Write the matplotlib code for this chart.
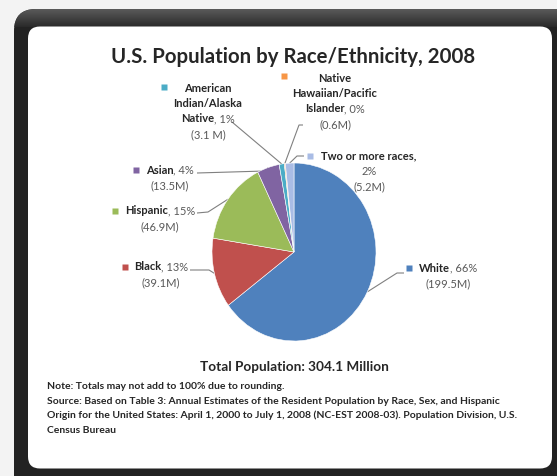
import numpy as np
import matplotlib
matplotlib.use('Agg')
import matplotlib.pyplot as plt
from matplotlib.patches import FancyBboxPatch

W, H = 557, 476

# data
groups = ['White', 'Black', 'Hispanic', 'Asian', 'American Indian/Alaska Native',
          'Native Hawaiian/Pacific Islander', 'Two or more races']
millions = [199.5, 39.1, 46.9, 13.5, 3.1, 0.6, 5.2]
shares = [66, 13, 15, 4, 1, 0, 2]
value_text = ['(199.5M)', '(39.1M)', '(46.9M)', '(13.5M)', '(3.1 M)', '(0.6M)', '(5.2M)']
colors = ['#4F81BD', '#C0504D', '#9BBB59', '#8064A2', '#4BACC6', '#F79646', '#A9BCE5']
name_lines = [['White'], ['Black'], ['Hispanic'], ['Asian'],
              ['American', 'Indian/Alaska', 'Native'],
              ['Native', 'Hawaiian/Pacific', 'Islander'],
              ['Two or more races,']]
pct_on_own_line = [False, False, False, False, False, False, True]

title = 'U.S. Population by Race/Ethnicity, 2008'
total_text = 'Total Population: 304.1 Million'
notes = ['Note: Totals may not add to 100% due to rounding.',
         'Source: Based on Table 3: Annual Estimates of the Resident Population by Race, Sex, and Hispanic',
         'Origin for the United States: April 1, 2000 to July 1, 2008 (NC-EST 2008-03). Population Division, U.S.',
         'Census Bureau']

# layout in image pixels (x right, y down)
pie_cx, pie_cy, pie_rx, pie_ry = 294, 252, 82, 89
label_cx = [448, 161, 160, 170, 208, 335, 369]
label_y0 = [268, 267, 211, 170, 88, 78, 156]
line_gap = 15.5
marker_xy = [(409, 268), (124.5, 267), (115, 211), (135.5, 170), (163.5, 86.5), (283.5, 75.5), (310, 156)]
leader_start = [[(404, 273), (397, 273)], [(190, 270), (209, 270)], [(197, 213), (208, 212)],
                [(197, 173), (265, 171)], [(232, 122)], [(303, 125), (299, 125)],
                [(304, 156), (297, 156)]]

FONT = 'Lato'
dark = '#262626'
grey = '#595959'

fig = plt.figure(figsize=(W / 100, H / 100), dpi=100)
bg = fig.add_axes([0, 0, 1, 1])
bg.set_xlim(0, W)
bg.set_ylim(H, 0)
bg.axis('off')
fig.patch.set_facecolor('#f3f3f3')

# dark rounded frame with lighter top band
outer = FancyBboxPatch((14, 9), 570, 490, boxstyle='round,pad=0,rounding_size=22',
                       facecolor='#222222', edgecolor='none', zorder=1)
bg.add_patch(outer)
grad = np.linspace(0, 1, 30).reshape(-1, 1)
im = bg.imshow(grad, extent=(14, W, 27, 9), cmap=plt.cm.colors.LinearSegmentedColormap.from_list(
    'g', ['#5a5a5a', '#2a2a2a']), aspect='auto', zorder=1.5)
im.set_clip_path(outer)
inner = FancyBboxPatch((28, 26.5), 524, 442, boxstyle='round,pad=0,rounding_size=12',
                       facecolor='white', edgecolor='none', zorder=2)
bg.add_patch(inner)

# pie
ax = fig.add_axes([(pie_cx - pie_rx) / W, (H - pie_cy - pie_ry) / H, 2 * pie_rx / W, 2 * pie_ry / H])
wedges, _ = ax.pie(millions, colors=colors, startangle=90, counterclock=False, radius=1,
                   wedgeprops=dict(edgecolor='white', linewidth=0.4))
ax.set_aspect('auto')
ax.set_xlim(-1, 1)
ax.set_ylim(-1, 1)
ax.axis('off')

fig.canvas.draw()
renderer = fig.canvas.get_renderer()


def to_img(pt_disp):
    return bg.transData.inverted().transform(pt_disp)


def two_part(cx, y, bold, rest, size=8):
    t1 = bg.text(0, y, bold, fontfamily=FONT, fontweight='bold', fontsize=size,
                 color=dark, ha='left', va='center', zorder=5)
    t2 = bg.text(0, y, rest, fontfamily=FONT, fontsize=size, color=grey,
                 ha='left', va='center', zorder=5)
    w1 = t1.get_window_extent(renderer).width if bold else 0
    w2 = t2.get_window_extent(renderer).width if rest else 0
    x0 = cx - (w1 + w2) / 2
    t1.set_x(x0)
    t2.set_x(x0 + w1)


for i, g in enumerate(groups):
    lines = [(n, '') for n in name_lines[i]]
    if pct_on_own_line[i]:
        lines.append(('', f'{shares[i]}%'))
    else:
        lines[-1] = (lines[-1][0], f', {shares[i]}%')
    lines.append(('', value_text[i]))
    for k, (b, r) in enumerate(lines):
        two_part(label_cx[i], label_y0[i] + k * line_gap, b, r)
    bg.plot(*marker_xy[i], marker='s', ms=4.2, color=colors[i], mec='none', zorder=5)

    # leader line from label to the middle of the slice edge
    w = wedges[i]
    mid = np.deg2rad((w.theta1 + w.theta2) / 2)
    end = to_img(ax.transData.transform((np.cos(mid), np.sin(mid))))
    pts = leader_start[i] + [tuple(end)]
    xs, ys = zip(*pts)
    bg.plot(xs, ys, color='#808080', lw=0.8, zorder=4, solid_capstyle='butt')

bg.text(293, 63, title, fontfamily=FONT, fontweight='bold', fontsize=14.7,
        color=dark, ha='center', va='baseline', zorder=5)
bg.text(294, 367, total_text, fontfamily=FONT, fontweight='bold', fontsize=9.8,
        color=dark, ha='center', va='center', zorder=5)
for k, line in enumerate(notes):
    bg.text(47, 386.5 + k * 14.6, line, fontfamily=FONT, fontweight='bold', fontsize=7.5,
            color=dark, ha='left', va='center', zorder=5)

fig.savefig('out.png', dpi=100)
